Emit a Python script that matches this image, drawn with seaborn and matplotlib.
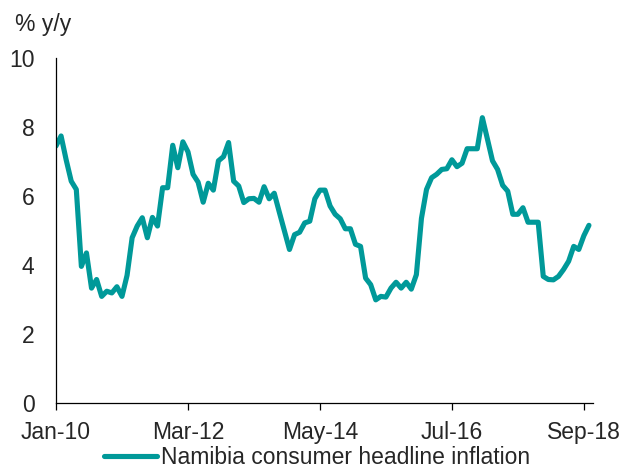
import numpy as np
import pandas as pd
import matplotlib
matplotlib.use("Agg")
import matplotlib.pyplot as plt
import seaborn as sns

# Namibia consumer headline inflation, % y/y, monthly Jan-10 .. Oct-18
inflation = [
    7.45, 7.74, 7.05, 6.43, 6.19, 3.96, 4.35, 3.33, 3.58, 3.09, 3.24, 3.19,
    3.37, 3.09, 3.70, 4.79, 5.13, 5.37, 4.79, 5.38, 5.13, 6.24, 6.24, 7.47,
    6.82, 7.57, 7.28, 6.63, 6.40, 5.82, 6.37, 6.17, 7.02, 7.14, 7.55, 6.43,
    6.29, 5.81, 5.92, 5.93, 5.82, 6.27, 5.92, 6.08, 5.53, 4.99, 4.45, 4.88,
    4.95, 5.22, 5.27, 5.92, 6.17, 6.17, 5.71, 5.47, 5.34, 5.05, 5.05, 4.60,
    4.54, 3.62, 3.43, 2.99, 3.09, 3.07, 3.33, 3.50, 3.33, 3.50, 3.30, 3.72,
    5.35, 6.19, 6.53, 6.63, 6.77, 6.79, 7.05, 6.85, 6.95, 7.37, 7.37, 7.37,
    8.27, 7.65, 7.02, 6.77, 6.31, 6.14, 5.47, 5.47, 5.66, 5.24, 5.24, 5.24,
    3.67, 3.58, 3.57, 3.67, 3.87, 4.11, 4.54, 4.45, 4.85, 5.15,
]
tick_labels = ["Jan-10", "Mar-12", "May-14", "Jul-16", "Sep-18"]
tick_step = 26  # months between labelled ticks
y_ticks = [0, 2, 4, 6, 8, 10]
series_name = "Namibia consumer headline inflation"

df = pd.DataFrame({"month": np.arange(len(inflation)), "value": inflation})

sns.set_style("white")
plt.rcParams["font.family"] = ["Liberation Sans", "DejaVu Sans"]
FS = 16.5

fig = plt.figure(figsize=(6.28, 4.70), dpi=100)
ax = fig.add_axes([56 / 628, 1 - 403 / 470, (593 - 56) / 628, (403 - 58) / 470])

sns.lineplot(data=df, x="month", y="value", ax=ax, color="#009999",
             linewidth=3.7, label=series_name, legend=False)

ax.set_xlim(0, 105.8)
ax.set_ylim(0, 10)
ax.set_xticks([i * tick_step for i in range(len(tick_labels))])
ax.set_xticklabels(tick_labels)
ax.set_yticks(y_ticks)
ax.set_xlabel("")
ax.set_ylabel("")

for side in ("top", "right"):
    ax.spines[side].set_visible(False)
for side in ("left", "bottom"):
    ax.spines[side].set_color("black")
    ax.spines[side].set_linewidth(0.9)

ax.tick_params(axis="x", direction="out", length=5, width=0.9, color="black",
               pad=8, labelsize=FS, bottom=True)
ax.tick_params(axis="y", length=0, pad=15.5, labelsize=FS, left=True)

fig.text(15 / 628, 1 - 25 / 470, "% y/y", ha="left", va="center", fontsize=FS)

handles, labels = ax.get_legend_handles_labels()
fig.legend(handles, labels, loc="center", bbox_to_anchor=(317 / 628, 1 - 458 / 470),
           frameon=False, fontsize=FS, handlelength=2.3, handletextpad=0.2,
           borderpad=0, borderaxespad=0)

fig.savefig("out.png", dpi=100)
